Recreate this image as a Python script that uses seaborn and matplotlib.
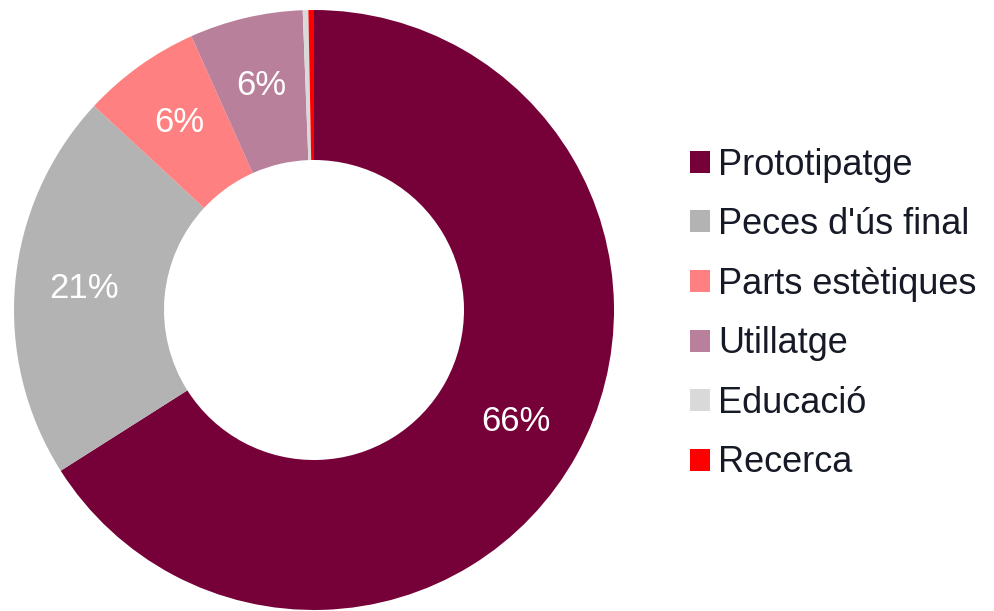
import matplotlib
matplotlib.use("Agg")
import matplotlib.pyplot as plt
import seaborn as sns

# Usage share by application
categories = ["Prototipatge", "Peces d'ús final", "Parts estètiques",
              "Utillatge", "Educació", "Recerca"]
shares = [66.0, 20.9, 6.4, 6.1, 0.3, 0.3]
colors = ["#760038", "#b3b3b3", "#ff8080", "#b9809b", "#d9d9d9", "#ff0000"]

sns.set_theme(style="white")
plt.rcParams["font.family"] = ["Liberation Sans", "DejaVu Sans"]

fig = plt.figure(figsize=(9.94, 6.11), dpi=100)
ax = fig.add_axes([14 / 994, 1 / 611, 600 / 994, 600 / 611])


def pct_label(p):
    return f"{p:.0f}%" if p >= 3 else ""


wedges, _, autotexts = ax.pie(
    shares,
    colors=colors,
    startangle=90,
    counterclock=False,
    radius=1.0,
    autopct=pct_label,
    pctdistance=0.77,
    wedgeprops=dict(width=0.5, linewidth=0),
    textprops=dict(color="white", fontsize=25),
)
ax.set_xlim(-1, 1)
ax.set_ylim(-1, 1)
ax.set_aspect("equal")
ax.axis("off")

leg = fig.legend(
    wedges, categories,
    loc="center left",
    bbox_to_anchor=(690 / 994, 297 / 611),
    frameon=False,
    fontsize=26,
    handlelength=0.56,
    handleheight=0.56,
    handletextpad=0.22,
    labelspacing=0.68,
    borderpad=0,
    borderaxespad=0,
)
for t in leg.get_texts():
    t.set_color("#161a26")

fig.savefig("out.png", dpi=100, facecolor="white")
